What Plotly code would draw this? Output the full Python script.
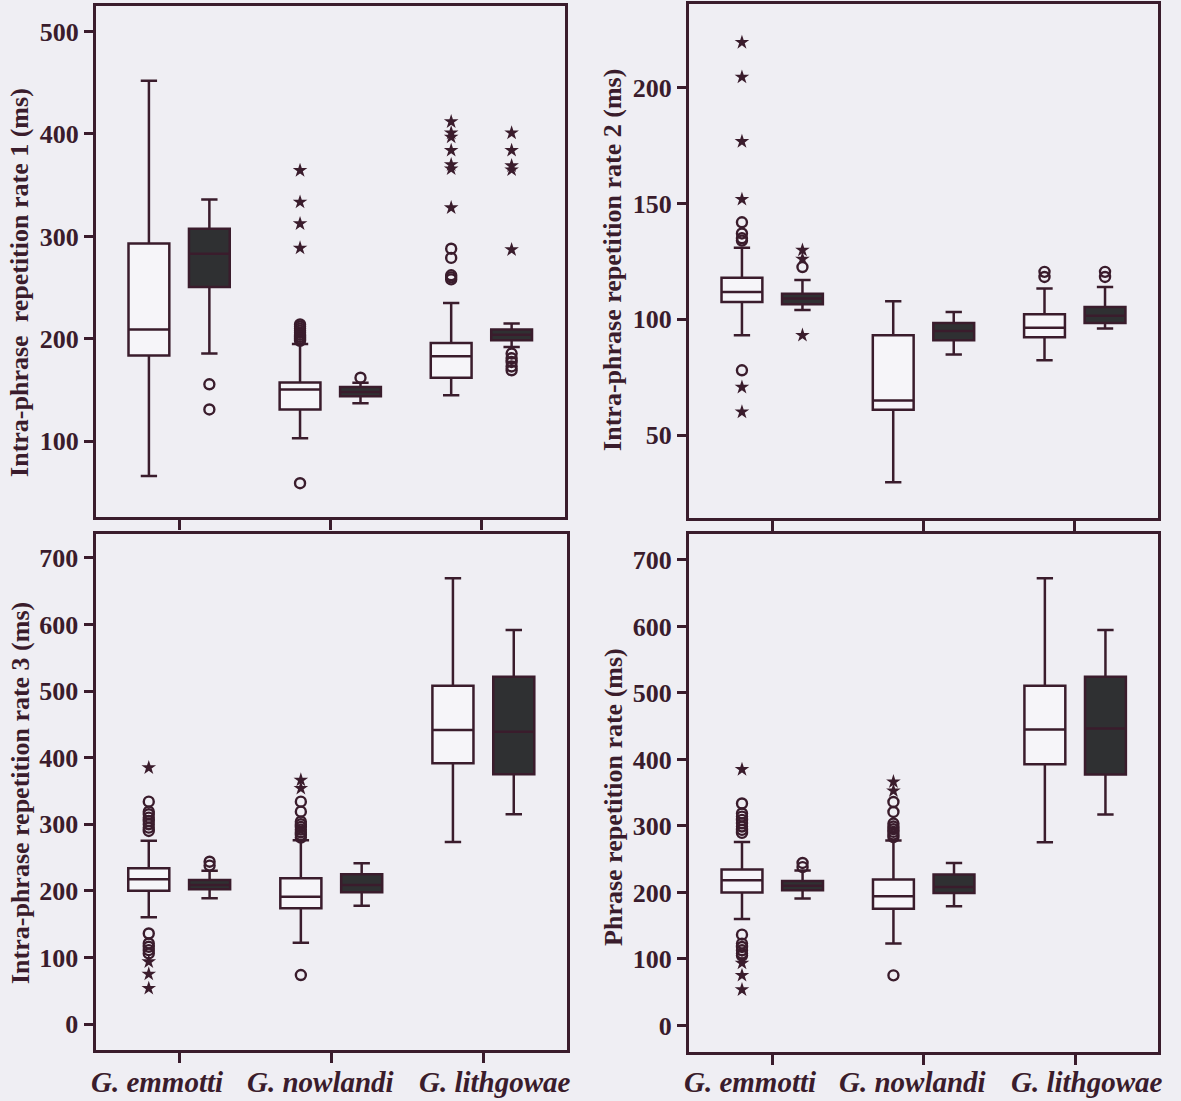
import plotly.graph_objects as go

# ---------------- data ----------------
SPECIES = ["G. emmotti", "G. nowlandi", "G. lithgowae"]

# box statistics per species: [lower whisker, Q1, median, Q3, upper whisker]
R1_OPEN = [[66, 183.6, 209, 293, 452], [103, 131, 150.4, 157.3, 195], [145, 162, 183, 196, 235]]
R1_FILLED = [[185.6, 250.5, 283, 307.5, 336], [137, 144, 148, 153, 157], [192, 198.5, 204, 209, 215]]
R1_OPEN_CIRCLES = [[], [59, 198, 200, 202, 204, 206, 208, 210, 212, 214], [258, 260, 262, 279, 288]]
R1_OPEN_STARS = [[], [288.6, 312.4, 333.5, 364.4], [328, 366, 370, 384, 397, 401, 412]]
R1_FILLED_CIRCLES = [[131, 155.6], [162], [169.3, 173, 177.4, 181, 185.6]]
R1_FILLED_STARS = [[], [], [287, 365, 369, 384, 401]]

R2_OPEN = [[93.1, 107.5, 111.8, 118, 130.9], [29.6, 61, 65, 93.1, 107.8], [82.3, 92.3, 96.4, 102.2, 113.3]]
R2_FILLED = [[104, 106.5, 109, 111.1, 117], [84.8, 91, 95, 98.4, 103.2], [96, 98.4, 101.5, 105.3, 114]]
R2_OPEN_CIRCLES = [[78, 134, 135, 137.1, 141.9], [], [118.3, 120.5]]
R2_OPEN_STARS = [[60, 70.7, 151.8, 176.8, 204.6, 219.6], [], []]
R2_FILLED_CIRCLES = [[122.6], [], [118.3, 120.5]]
R2_FILLED_STARS = [[93.1, 126, 129.9], [], []]

R3_OPEN = [[160.3, 200.3, 217.4, 233.9, 275.4], [122.2, 173.8, 191.3, 218.8, 276], [273.4, 391.6, 441.6, 508.2, 669.5]]
R3_FILLED = [[188.8, 202.3, 209, 216.3, 230.3], [177.7, 197.8, 208.8, 224.9, 241.4], [315, 375.1, 439, 521.7, 591.9]]
R3_OPEN_CIRCLES = [[106, 111, 116, 121, 136, 290, 295, 300, 305, 310, 315, 319, 334],
                   [73.6, 280, 284, 288, 292, 296, 300, 304, 319, 334], []]
R3_OPEN_STARS = [[53.6, 75.1, 93.6, 385], [354, 366.5], []]
R3_FILLED_CIRCLES = [[238, 243.8], [], []]
R3_FILLED_STARS = [[], [], []]

R4_OPEN = [[160, 199.8, 218.3, 234.4, 276], [123, 175.6, 194.2, 219.3, 278], [275.5, 392.9, 445.1, 510.8, 672.4]]
R4_FILLED = [[190.7, 203.2, 210, 217.2, 233], [179.1, 199.2, 208.2, 226.8, 244.3], [317.2, 377.4, 446.6, 524.3, 594.6]]
R4_OPEN_CIRCLES = [[105, 108, 113, 118, 123, 136.5, 289.5, 294, 299, 304, 309, 314, 318.7, 333.7],
                   [75.3, 283, 287, 291, 295, 299, 303.6, 321, 336], []]
R4_OPEN_STARS = [[53.7, 75.3, 93.8, 384.9], [352.7, 366.3], []]
R4_FILLED_CIRCLES = [[238, 244.3], [], []]
R4_FILLED_STARS = [[], [], []]

Y_TITLES = ["Intra-phrase  repetition rate 1 (ms)", "Intra-phrase repetition rate 2 (ms)",
            "Intra-phrase repetition rate 3 (ms)", "Phrase repetition rate (ms)"]
Y_TICKS = [[100, 200, 300, 400, 500], [50, 100, 150, 200],
           [0, 100, 200, 300, 400, 500, 600, 700], [0, 100, 200, 300, 400, 500, 600, 700]]

# ---------------- style / layout ----------------
LINE = "#3a1c2c"
DARK_FILL = "#2f3032"
BG = "#efeef3"
OPEN_FILL = "#f6f5f9"
FONT = "Liberation Serif"
OFF = 0.2
BOX_W = 0.27
LABEL_SHIFT = [-22, -11, 12]   # horizontal nudge (px) of species labels
LABEL_Y = 0.0172               # paper y of species labels

panels = [
    dict(o=R1_OPEN, f=R1_FILLED, oc=R1_OPEN_CIRCLES, os=R1_OPEN_STARS, fc=R1_FILLED_CIRCLES, fs=R1_FILLED_STARS,
         xd=[0.0813, 0.4780], yd=[0.5304, 0.9946], yr=[26, 525], bottom=False, tx=0.0169, ty=0.7439),
    dict(o=R2_OPEN, f=R2_FILLED, oc=R2_OPEN_CIRCLES, os=R2_OPEN_STARS, fc=R2_FILLED_CIRCLES, fs=R2_FILLED_STARS,
         xd=[0.5834, 0.9805], yd=[0.5295, 0.9964], yr=[14.2, 236.2], bottom=False, tx=0.519, ty=0.7639),
    dict(o=R3_OPEN, f=R3_FILLED, oc=R3_OPEN_CIRCLES, os=R3_OPEN_STARS, fc=R3_FILLED_CIRCLES, fs=R3_FILLED_STARS,
         xd=[0.0809, 0.4801], yd=[0.0463, 0.5150], yr=[-39, 736], bottom=True, tx=0.0169, ty=0.2797),
    dict(o=R4_OPEN, f=R4_FILLED, oc=R4_OPEN_CIRCLES, os=R4_OPEN_STARS, fc=R4_FILLED_CIRCLES, fs=R4_FILLED_STARS,
         xd=[0.5834, 0.9809], yd=[0.0445, 0.5150], yr=[-40, 739], bottom=True, tx=0.519, ty=0.2761),
]


def flat(lists, off):
    xs, ys = [], []
    for i, vals in enumerate(lists):
        for v in vals:
            xs.append(i + off)
            ys.append(v)
    return xs, ys


fig = go.Figure()
layout = {}
annotations = []
for k, p in enumerate(panels):
    sfx = "" if k == 0 else str(k + 1)
    xa, ya = "x" + sfx, "y" + sfx
    for stats, off, fill in [(p["o"], -OFF, OPEN_FILL), (p["f"], OFF, DARK_FILL)]:
        fig.add_trace(go.Box(
            x=[i + off for i in range(len(SPECIES))],
            lowerfence=[s[0] for s in stats], q1=[s[1] for s in stats], median=[s[2] for s in stats],
            q3=[s[3] for s in stats], upperfence=[s[4] for s in stats],
            width=BOX_W, whiskerwidth=0.4, fillcolor=fill, line=dict(color=LINE, width=2.5),
            boxpoints=False, xaxis=xa, yaxis=ya, showlegend=False, hoverinfo="skip"))
    for circles, stars, off in [(p["oc"], p["os"], -OFF), (p["fc"], p["fs"], OFF)]:
        cx, cy = flat(circles, off)
        if cx:
            fig.add_trace(go.Scatter(x=cx, y=cy, mode="markers", xaxis=xa, yaxis=ya, showlegend=False,
                                     marker=dict(symbol="circle-open", size=10, color=LINE,
                                                 line=dict(width=2.4, color=LINE))))
        sx, sy = flat(stars, off)
        if sx:
            fig.add_trace(go.Scatter(x=sx, y=sy, mode="markers", xaxis=xa, yaxis=ya, showlegend=False,
                                     marker=dict(symbol="star", size=11, color=LINE)))
    layout["xaxis" + sfx] = dict(
        domain=p["xd"], anchor=ya, range=[-0.55, 2.55], tickvals=[0, 1, 2],
        showticklabels=False, ticks="outside", ticklen=10, tickwidth=2.5, tickcolor=LINE,
        showline=True, mirror=True, linewidth=3, linecolor=LINE, showgrid=False, zeroline=False,
        automargin=False)
    layout["yaxis" + sfx] = dict(
        domain=p["yd"], anchor=xa, range=p["yr"], tickvals=Y_TICKS[k], ticks="outside", ticklen=9,
        tickwidth=2.5, tickcolor=LINE, showline=True, mirror=True, linewidth=3, linecolor=LINE,
        showgrid=False, zeroline=False, automargin=False,
        tickfont=dict(family=FONT, size=26, color=LINE, weight="bold"))
    annotations.append(dict(text=Y_TITLES[k], x=p["tx"], y=p["ty"], xref="paper", yref="paper",
                            textangle=-90, showarrow=False, xanchor="center", yanchor="middle",
                            font=dict(family=FONT, size=26, color=LINE, weight="bold")))
    if p["bottom"]:
        for i, name in enumerate(SPECIES):
            annotations.append(dict(text=name, x=i, y=LABEL_Y, xref=xa, yref="paper", xshift=LABEL_SHIFT[i],
                                    showarrow=False, xanchor="center", yanchor="middle",
                                    font=dict(family=FONT, size=29, color=LINE, weight="bold",
                                              style="italic")))

fig.update_layout(width=1181, height=1101, margin=dict(l=0, r=0, t=0, b=0),
                  paper_bgcolor=BG, plot_bgcolor=BG, annotations=annotations, **layout)
fig.write_html("out.html", config={"displayModeBar": False},
               post_script="document.body.style.margin='0';document.body.style.background='" + BG + "';"
                           "document.body.style.overflow='hidden';")
